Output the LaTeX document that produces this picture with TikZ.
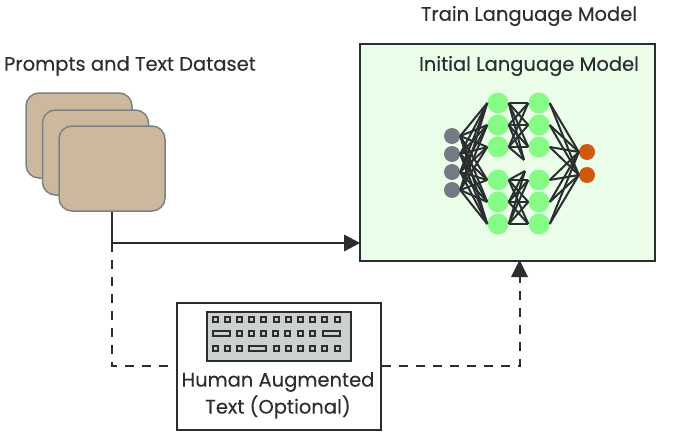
\documentclass[tikz,border=0pt]{standalone}
\usepackage{fontspec}
\setmainfont[FakeBold=0.25]{Poppins}
\usetikzlibrary{arrows.meta,calc}
\definecolor{ink}{HTML}{2B2E30}
\definecolor{tan}{HTML}{CDB89E}
\definecolor{edge}{HTML}{7A8288}
\definecolor{pale}{HTML}{EAFEEA}
\definecolor{lime}{HTML}{86FB86}
\definecolor{slate}{HTML}{757B84}
\definecolor{rust}{HTML}{D1590F}
\definecolor{kbd}{HTML}{CDD1CD}
\tikzset{
  lab/.style={font=\fontsize{19.5}{22}\selectfont,text=ink,inner sep=0pt,anchor=center},
  sheet/.style={draw=edge,fill=tan,line width=1.5pt,rounded corners=13pt,minimum width=106pt,minimum height=85pt,inner sep=0pt},
  conn/.style={ink,line width=2.2pt},
  dconn/.style={ink,line width=2pt,dash pattern=on 9pt off 8pt},
  edgeline/.style={ink,line width=2pt},
  hid/.style={circle,fill=lime,minimum size=21pt,inner sep=0pt},
  inp/.style={circle,fill=slate,minimum size=16pt,inner sep=0pt},
  outp/.style={circle,fill=rust,minimum size=16pt,inner sep=0pt},
  keysq/.style={draw=ink,fill=kbd,line width=2pt,minimum width=5pt,minimum height=5pt,inner sep=0pt},
  keywide/.style={draw=ink,fill=kbd,line width=2pt,minimum width=17pt,minimum height=5pt,inner sep=0pt},
}
\begin{document}
\begin{tikzpicture}[x=1pt,y=-1pt]
\useasboundingbox (0,0) rectangle (681,434);
\fill[white] (0,0) rectangle (681,434);
\node[draw=ink,fill=pale,line width=2pt,minimum width=295pt,minimum height=217pt,inner sep=0pt] (train) at (507.5,152.5) {};
\node[lab] (tl) at (529,16) {Train Language Model};
\node[lab] (il) at (529,66) {Initial Language Model};
\node[lab] (pl) at (130,66) {Prompts and Text Dataset};
\node[sheet] (s1) at (79,135.5) {};
\node[sheet] (s2) at (95.5,152.5) {};
\node[sheet] (s3) at (112,168.5) {};
\node[draw=ink,fill=white,line width=2pt,minimum width=204pt,minimum height=127pt,inner sep=0pt] (aug) at (279,366) {};
\node[lab] (a1) at (278,382) {Human Augmented};
\node[lab] (a2) at (278,407) {Text (Optional)};
\node[draw=ink,fill=kbd,line width=2pt,minimum width=144pt,minimum height=49pt,inner sep=0pt] (kb) at (279,336.5) {};
\foreach \i in {0,...,10}{\node[keysq] (ka\i) at ({215+12.2*\i},319) {};}
\node[keywide] (kbl) at (221,333) {};
\foreach \i in {0,...,6}{\node[keysq] (kb\i) at ({239+12.2*\i},333) {};}
\node[keywide] (kbr) at (331,333) {};
\foreach \i in {0,1,2}{\node[keysq] (kc\i) at ({215+12.2*\i},348) {};}
\node[keywide] (kcw) at (257,348) {};
\foreach \i in {0,...,5}{\node[keysq] (kd\i) at ({276+12.2*\i},348) {};}
\coordinate (j) at (112,243);
\coordinate (jd) at (112,366);
\coordinate (ju) at (519.5,366);
\coordinate (jt) at (519.5,276);
\draw[conn] (s3.south) -- (j);
\draw[conn] (j) -- (348,243);
\fill[ink] (360,243) -- (344,234.5) -- (344,251.5) -- cycle;
\draw[dconn] (j) -- (jd) -- (aug.west |- jd);
\draw[dconn] (aug.east |- ju) -- (ju) -- (jt);
\fill[ink] (519.5,260) -- (511,277) -- (528,277) -- cycle;
\foreach \a/\y in {1/136,2/154,3/172,4/190}{\node[inp] (ni\a) at (452,\y) {};}
\foreach \a/\y in {1/103,2/125,3/147,4/180,5/202,6/224}{\node[hid] (nh\a) at (498,\y) {};\node[hid] (nm\a) at (539,\y) {};}
\node[outp] (no1) at (587,152) {};
\node[outp] (no2) at (587,175) {};
\coordinate (st) at (524,160);
\coordinate (sb) at (525,171);
\foreach \a in {1,2,3,4}\foreach \b in {1,...,6}{\draw[edgeline] (ni\a.east) -- (nh\b.west);}
\foreach \a in {1,2,3}\foreach \b in {1,2,3}{\draw[edgeline] (nh\a.east) -- (nm\b.west);}
\foreach \a in {4,5,6}\foreach \b in {4,5,6}{\draw[edgeline] (nh\a.east) -- (nm\b.west);}
\foreach \a in {1,2,3}{\draw[edgeline] (nh\a.east) -- (st);}
\foreach \a in {4,5,6}{\draw[edgeline] (nh\a.east) -- (sb);}
\foreach \a in {1,...,6}\foreach \b in {1,2}{\draw[edgeline] (nm\a.east) -- (no\b.west);}
\end{tikzpicture}
\end{document}
